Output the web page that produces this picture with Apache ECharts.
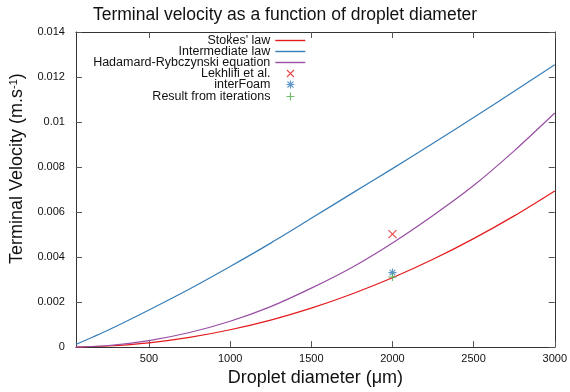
<!DOCTYPE html>
<html>
<head>
<meta charset="utf-8">
<script src="https://cdn.jsdelivr.net/npm/echarts@6/dist/echarts.min.js"></script>
<style>
html,body{margin:0;padding:0;background:#fff;}
#chart{width:570px;height:392px;}
</style>
</head>
<body>
<div id="chart"></div>
<script>
// Droplet diameters (µm) at which the curves were read
const diameters = [50, 250, 500, 750, 1000, 1250, 1500, 1750, 2000, 2250, 2500, 2750, 3000];
// Terminal velocity (m/s)
const stokes = [0.000002, 0.00005, 0.00019, 0.00043, 0.00077, 0.0012, 0.00173, 0.00236, 0.00308, 0.0039, 0.00482, 0.00583, 0.00694];
const intermediate = [0.00012, 0.00076, 0.00165, 0.00258, 0.00358, 0.00462, 0.00572, 0.00683, 0.00793, 0.00906, 0.0102, 0.01137, 0.01254];
const hadamard = [0.000003, 0.00007, 0.00029, 0.00065, 0.00115, 0.0018, 0.00262, 0.00354, 0.00463, 0.00585, 0.00718, 0.00872, 0.0104];
// Single measured points
const lekhlifi = [[2000, 0.00502]];
const interFoam = [[2000, 0.00331]];
const iterations = [[2000, 0.00311]];
// Tick values
const xTicks = [500, 1000, 1500, 2000, 2500, 3000];

const seriesNames = ["Stokes' law", "Intermediate law", "Hadamard-Rybczynski equation", "Lekhlifi et al.", "interFoam", "Result from iterations"];
const colors = ['#e41a1c', '#377eb8', '#984ea3', '#e41a1c', '#377eb8', '#4daf4a'];

const FONT = 'Liberation Sans, Arial, Helvetica, sans-serif';
const AX = '#333';

function pair(xs, ys) { return xs.map((x, i) => [x, ys[i]]); }

const symCross = 'path://M0,0L10,10M10,0L0,10';
const symStar = 'path://M5,0L5,10M0,5L10,5M1.5,1.5L8.5,8.5M8.5,1.5L1.5,8.5';
const symPlus = 'path://M5,0L5,10M0,5L10,5';
// legend icons: 30x8 boxes, mark centred
const legLine = 'path://M0,0L0,0M0,4L30,4M30,8L30,8';
const legCross = 'path://M0,0L0,0M11.5,0.5L18.5,7.5M18.5,0.5L11.5,7.5M30,8L30,8';
const legStar = 'path://M0,0L0,0M15,0L15,8M11,4L19,4M12,1L18,7M18,1L12,7M30,8L30,8';
const legPlus = 'path://M0,0L0,0M15,0L15,8M11,4L19,4M30,8L30,8';
const legendIcons = [legLine, legLine, legLine, legCross, legStar, legPlus];

function lineSeries(i, data) {
  return {
    name: seriesNames[i], type: 'line', data: data, smooth: 0.3,
    symbol: 'none', showSymbol: false,
    lineStyle: { color: colors[i], width: 1.2 },
    itemStyle: { color: 'rgba(0,0,0,0)', borderColor: colors[i], borderWidth: 1.2 },
    z: 2
  };
}
function pointSeries(i, data, sym) {
  return {
    name: seriesNames[i], type: 'scatter', data: data, symbol: sym, symbolSize: 8,
    itemStyle: { color: 'rgba(0,0,0,0)', borderColor: colors[i], borderWidth: 1.1 },
    z: 3
  };
}

const rowTops = [34, 45, 56, 67, 78, 90];
const legends = seriesNames.map((n, i) => ({
  data: [{ name: n, icon: legendIcons[i] }], orient: 'vertical', right: 264, top: rowTops[i], padding: 0,
  itemWidth: 30, itemHeight: 8, itemGap: 0, selectedMode: false,
  align: 'right',
  itemStyle: { color: 'rgba(0,0,0,0)', borderColor: colors[i], borderWidth: i < 3 ? 1.4 : 1.1 },
  textStyle: { fontFamily: FONT, fontSize: 12.5, color: '#111' }
}));

const chart = echarts.init(document.getElementById('chart'), null, { renderer: 'canvas' });
chart.setOption({
  animation: false,
  backgroundColor: '#fff',
  title: {
    text: 'Terminal velocity as a function of droplet diameter',
    left: 'center', top: 1,
    textStyle: { fontFamily: FONT, fontSize: 17.5, fontWeight: 'normal', color: '#111' }
  },
  legend: legends,
  grid: { left: 74, right: 13, top: 32, bottom: 43.5, containLabel: false },
  xAxis: [{
    type: 'value', min: 50, max: 3000,
    name: 'Droplet diameter (\u03bcm)', nameLocation: 'middle', nameGap: 18,
    nameTextStyle: { fontFamily: FONT, fontSize: 18, color: '#111' },
    axisLine: { show: true, lineStyle: { color: AX, width: 1 } },
    axisTick: { show: true, inside: true, length: 6, customValues: xTicks, lineStyle: { color: '#555' } },
    axisLabel: { customValues: xTicks, margin: 6, fontFamily: FONT, fontSize: 11, color: '#111', formatter: v => String(v) },
    splitLine: { show: false }
  }, {
    type: 'value', min: 50, max: 3000, position: 'top',
    axisLine: { show: true, onZero: false, lineStyle: { color: AX, width: 1 } },
    axisTick: { show: true, inside: true, length: 6, customValues: xTicks, lineStyle: { color: '#555' } },
    axisLabel: { show: false },
    splitLine: { show: false }
  }],
  yAxis: [{
    type: 'value', min: 0, max: 0.014, interval: 0.002,
    name: 'Terminal Velocity (m.s{sup|-1})', nameLocation: 'middle', nameGap: 41,
    nameTextStyle: {
      fontFamily: FONT, fontSize: 18, color: '#111', padding: [0, 0, 0, 42],
      rich: { sup: { fontFamily: FONT, fontSize: 11, color: '#111', verticalAlign: 'top', padding: [0, 0, 8, 0] } }
    },
    axisLine: { show: true, lineStyle: { color: AX, width: 1 } },
    axisTick: { show: true, inside: true, length: 6, lineStyle: { color: '#555' } },
    axisLabel: { margin: 11, fontFamily: FONT, fontSize: 11, color: '#111', formatter: v => String(v) },
    splitLine: { show: false }
  }, {
    type: 'value', min: 0, max: 0.014, interval: 0.002, position: 'right',
    axisLine: { show: true, onZero: false, lineStyle: { color: AX, width: 1 } },
    axisTick: { show: true, inside: true, length: 6, lineStyle: { color: '#555' } },
    axisLabel: { show: false },
    splitLine: { show: false }
  }],
  series: [
    lineSeries(0, pair(diameters, stokes)),
    lineSeries(1, pair(diameters, intermediate)),
    lineSeries(2, pair(diameters, hadamard)),
    pointSeries(3, lekhlifi, symCross),
    pointSeries(4, interFoam, symStar),
    pointSeries(5, iterations, symPlus)
  ]
});
</script>
</body>
</html>
